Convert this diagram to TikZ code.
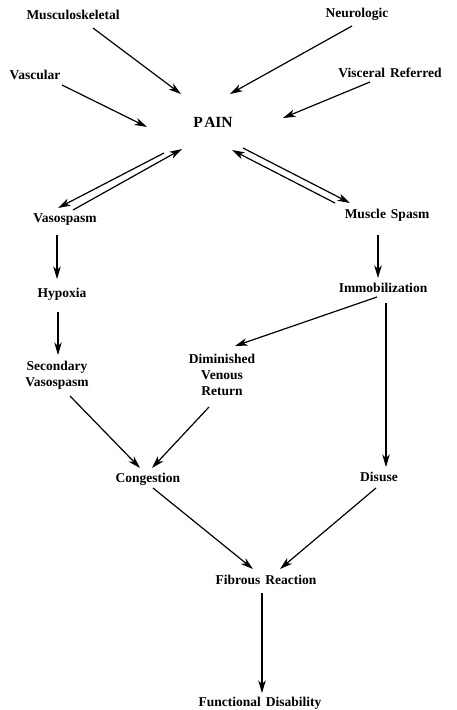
\documentclass[tikz,border=0pt]{standalone}
\usepackage{fontspec}
\setmainfont{Liberation Serif}
\usetikzlibrary{arrows.meta,calc}
\newcommand{\widewords}{\spaceskip=5pt\relax}
\tikzset{
  lbl/.style={inner sep=0pt, align=center, font=\bfseries\fontsize{13.5}{16}\selectfont\widewords},
  big/.style={inner sep=0pt, font=\bfseries\fontsize{15.5}{18}\selectfont},
  arr/.style={line width=1.2pt, -{Stealth[length=12.5pt,width=7.5pt,inset=3.5pt]}},
}
\begin{document}
\begin{tikzpicture}[x=1pt,y=-1pt]
\useasboundingbox (0,0) rectangle (456,710);
\node[lbl] (ms) at (73,15) {Musculoskeletal};
\node[lbl] (neu) at (357,14) {Neurologic};
\node[lbl] (vas) at (35,75) {Vascular};
\node[lbl] (vis) at (390,73) {Visceral Referred};
\node[big] (pain) at (213,122) {P\kern1.5pt AIN};
\node[lbl] (vsp) at (65,220) {Vasospasm};
\node[lbl] (msp) at (387,215) {Muscle Spasm};
\node[lbl] (hyp) at (62,294) {Hypoxia};
\node[lbl] (imm) at (383,288) {Immobilization};
\node[lbl] (sec) at (57,375) {Secondary\\Vasospasm};
\node[lbl] (dim) at (222,375) {Diminished\\Venous\\Return};
\node[lbl] (cong) at (148,479) {Congestion};
\node[lbl] (dis) at (379,477) {Disuse};
\node[lbl] (fib) at (266,580) {Fibrous Reaction};
\node[lbl] (fd) at (260,703) {Functional Disability};
\draw[arr] ($(ms.center)+(20,13)$) -- ($(pain.center)+(-32,-28)$);
\draw[arr] ($(neu.center)+(-5,12)$) -- ($(pain.center)+(17,-28)$);
\draw[arr] ($(vas.center)+(27,10)$) -- ($(pain.center)+(-66,5)$);
\draw[arr] ($(vis.center)+(-20,9)$) -- ($(pain.center)+(70,-4)$);
\draw[arr] ($(pain.center)+(-49,31)$) -- ($(vsp.center)+(-7,-12)$);
\draw[arr] ($(vsp.center)+(8,-10)$) -- ($(pain.center)+(-31,27)$);
\draw[arr] ($(pain.center)+(30,26)$) -- ($(msp.center)+(-37,-12)$);
\draw[arr] ($(msp.center)+(-52,-12)$) -- ($(pain.center)+(19,28)$);
\draw[arr] ($(vsp.center)+(-8,15)$) -- ($(hyp.center)+(-5,-15)$);
\draw[arr] ($(hyp.center)+(-4,18)$) -- ($(sec.center)+(1,-20)$);
\draw[arr] ($(msp.center)+(-9,20)$) -- ($(imm.center)+(-5,-10)$);
\draw[arr] ($(imm.center)+(-6,9)$) -- ($(dim.center)+(13,-29)$);
\draw[arr] ($(imm.center)+(3,15)$) -- ($(dis.center)+(7,-10)$);
\draw[arr] ($(sec.center)+(13,21)$) -- ($(cong.center)+(-8,-11)$);
\draw[arr] ($(dim.center)+(-13,32)$) -- ($(cong.center)+(4,-11)$);
\draw[arr] ($(cong.center)+(5,9)$) -- ($(fib.center)+(-13,-11)$);
\draw[arr] ($(dis.center)+(-3,11)$) -- ($(fib.center)+(14,-11)$);
\draw[arr] ($(fib.center)+(-4,13)$) -- ($(fd.center)+(2,-10)$);
\end{tikzpicture}
\end{document}
